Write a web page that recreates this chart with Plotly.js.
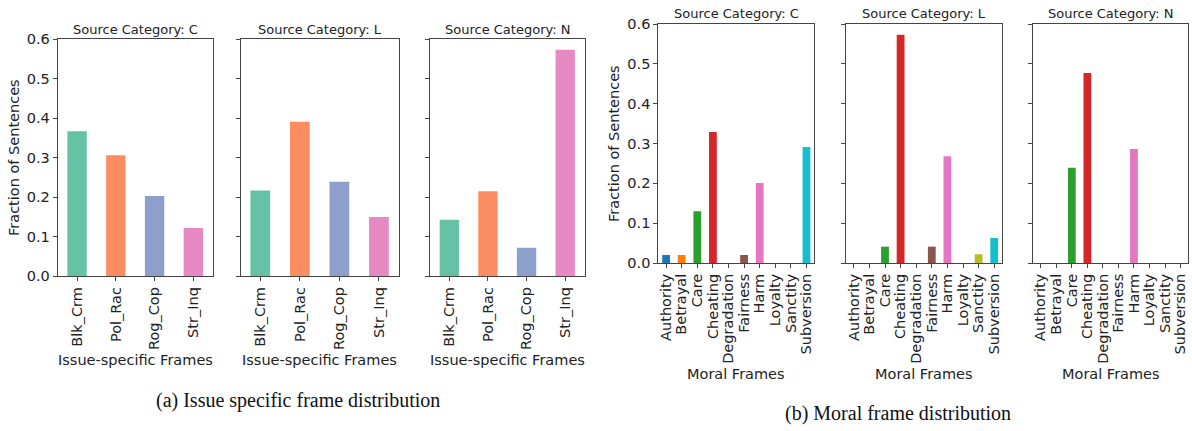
<!DOCTYPE html>
<html>
<head>
<meta charset="utf-8">
<script src="https://cdn.plot.ly/plotly-3.0.1.min.js"></script>
<style>html,body{margin:0;padding:0;background:#fff;}#chart{width:1192px;height:431px;}</style>
</head>
<body>
<div id="chart"></div>
<script>
// ---- Data ----
const issueFrames = ["Blk_Crm", "Pol_Rac", "Rog_Cop", "Str_Inq"];
const issueC = [0.367, 0.306, 0.203, 0.122];
const issueL = [0.217, 0.391, 0.239, 0.150];
const issueN = [0.143, 0.215, 0.072, 0.573];

const moralFrames = ["Authority", "Betrayal", "Care", "Cheating", "Degradation", "Fairness", "Harm", "Loyalty", "Sanctity", "Subversion"];
const moralC = [0.020, 0.020, 0.130, 0.329, 0.0, 0.020, 0.201, 0.0, 0.0, 0.291];
const moralL = [0.0, 0.0, 0.041, 0.573, 0.0, 0.041, 0.268, 0.0, 0.022, 0.063];
const moralN = [0.0, 0.0, 0.239, 0.477, 0.0, 0.0, 0.286, 0.0, 0.0, 0.0];

const sourceCats = ["C", "L", "N"];
const yTicks = [0, 0.1, 0.2, 0.3, 0.4, 0.5, 0.6];

const issueColors = ["#66c2a5", "#fc8d62", "#8da0cb", "#e78ac3"];
const moralColors = ["#1f77b4", "#ff7f0e", "#2ca02c", "#d62728", "#9467bd", "#8c564b", "#e377c2", "#7f7f7f", "#bcbd22", "#17becf"];

// ---- Layout helpers ----
const W = 1192, H = 431;
const fx = p => p / W;
const fy = p => 1 - p / H;
const FONT = "DejaVu Sans";
const TXT = "#222";

const panels = [
  {x0: 57.7, x1: 212.7, top: 39, bot: 276.3, cats: issueFrames, vals: issueC, colors: issueColors, labels: true, src: sourceCats[0], xt: "Issue-specific Frames", xty: 360, tty: 29},
  {x0: 240.5, x1: 398.7, top: 39, bot: 276.3, cats: issueFrames, vals: issueL, colors: issueColors, labels: false, src: sourceCats[1], xt: "Issue-specific Frames", xty: 360, tty: 29},
  {x0: 430, x1: 584.5, top: 39, bot: 276.3, cats: issueFrames, vals: issueN, colors: issueColors, labels: false, src: sourceCats[2], xt: "Issue-specific Frames", xty: 360, tty: 29},
  {x0: 658.3, x1: 814.3, top: 24, bot: 263, cats: moralFrames, vals: moralC, colors: moralColors, labels: true, src: sourceCats[0], xt: "Moral Frames", xty: 374, tty: 14},
  {x0: 846, x1: 1002, top: 24, bot: 263, cats: moralFrames, vals: moralL, colors: moralColors, labels: false, src: sourceCats[1], xt: "Moral Frames", xty: 374, tty: 14},
  {x0: 1033, x1: 1188.3, top: 24, bot: 263, cats: moralFrames, vals: moralN, colors: moralColors, labels: false, src: sourceCats[2], xt: "Moral Frames", xty: 374, tty: 14}
];

const data = [];
const layout = {
  width: W, height: H,
  margin: {l: 0, r: 0, t: 0, b: 0},
  paper_bgcolor: "#fff", plot_bgcolor: "#fff",
  showlegend: false,
  font: {family: FONT, color: TXT, size: 14.5},
  annotations: []
};

panels.forEach((p, i) => {
  const n = i === 0 ? "" : String(i + 1);
  data.push({
    type: "bar",
    x: p.cats,
    y: p.vals,
    width: 0.5,
    marker: {color: p.colors, line: {width: 0}},
    xaxis: "x" + n, yaxis: "y" + n,
    hoverinfo: "x+y"
  });
  layout["xaxis" + n] = {
    domain: [fx(p.x0), fx(p.x1)],
    anchor: "y" + n,
    type: "category",
    range: [-0.5, p.cats.length - 0.5],
    tickmode: "array", tickvals: p.cats, ticktext: p.cats,
    showline: true, mirror: true, linecolor: "#444", linewidth: 1,
    ticks: "outside", ticklen: 4, tickcolor: "#444", tickwidth: 1,
    tickangle: -90,
    tickfont: {family: FONT, size: 14.5, color: TXT},
    showgrid: false, zeroline: false, fixedrange: true
  };
  layout["yaxis" + n] = {
    domain: [fy(p.bot), fy(p.top)],
    anchor: "x" + n,
    range: [0, 0.6],
    tickvals: yTicks,
    tickformat: ".1f",
    showticklabels: p.labels,
    showline: true, mirror: true, linecolor: "#444", linewidth: 1,
    ticks: "outside", ticklen: 4, tickcolor: "#444", tickwidth: 1,
    tickfont: {family: FONT, size: 14.5, color: TXT},
    showgrid: false, zeroline: false, fixedrange: true
  };
  const cx = fx((p.x0 + p.x1) / 2);
  layout.annotations.push({
    text: "Source Category: " + p.src,
    xref: "paper", yref: "paper", x: cx, y: fy(p.tty),
    xanchor: "center", yanchor: "middle", showarrow: false,
    font: {family: FONT, size: 13, color: TXT}
  });
  layout.annotations.push({
    text: p.xt,
    xref: "paper", yref: "paper", x: cx, y: fy(p.xty),
    xanchor: "center", yanchor: "middle", showarrow: false,
    font: {family: FONT, size: 14.5, color: TXT}
  });
});

// y-axis titles
layout.annotations.push({
  text: "Fraction of Sentences", textangle: -90,
  xref: "paper", yref: "paper", x: fx(14), y: fy(158),
  xanchor: "center", yanchor: "middle", showarrow: false,
  font: {family: FONT, size: 14.5, color: TXT}
});
layout.annotations.push({
  text: "Fraction of Sentences", textangle: -90,
  xref: "paper", yref: "paper", x: fx(614), y: fy(144),
  xanchor: "center", yanchor: "middle", showarrow: false,
  font: {family: FONT, size: 14.5, color: TXT}
});

// captions
layout.annotations.push({
  text: "(a) Issue specific frame distribution",
  xref: "paper", yref: "paper", x: fx(298), y: fy(400),
  xanchor: "center", yanchor: "middle", showarrow: false,
  font: {family: "Liberation Serif", size: 20, color: "#111"}
});
layout.annotations.push({
  text: "(b) Moral frame distribution",
  xref: "paper", yref: "paper", x: fx(898), y: fy(413),
  xanchor: "center", yanchor: "middle", showarrow: false,
  font: {family: "Liberation Serif", size: 20, color: "#111"}
});

Plotly.newPlot("chart", data, layout, {displayModeBar: false, staticPlot: true});
</script>
</body>
</html>
